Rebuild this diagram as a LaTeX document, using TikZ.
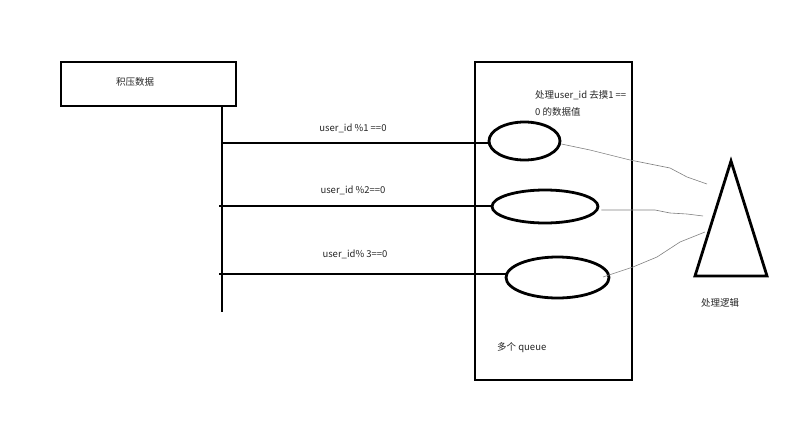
\documentclass[tikz,border=0pt]{standalone}
\usepackage{fontspec}
\setmainfont{Noto Sans CJK SC}
\usetikzlibrary{shapes.geometric}
\tikzset{
  thick line/.style={line width=2.8pt},
  qell/.style={draw, ellipse, line width=2.8pt, inner sep=0pt},
  wire/.style={draw=gray, line width=0.6pt},
  lbl/.style={font=\fontsize{9.5}{12}\selectfont, text=black!85, inner sep=0pt},
}
\begin{document}
\begin{tikzpicture}[x=1pt,y=-1pt]
\useasboundingbox (0,0) rectangle (800,447);
% source box
\node[draw, line width=2.8pt, minimum width=175pt, minimum height=44pt, inner sep=0pt] (src) at (148.5,84) {};
\node[lbl] (srct) at (135,82) {积压数据};
% vertical bus
\coordinate (btop) at (222,106);
\coordinate (bbot) at (222,312);
\draw[thick line] (btop) -- (bbot);
% queue box
\node[draw, line width=2.8pt, minimum width=157pt, minimum height=318pt, inner sep=0pt] (qbox) at (553.5,221) {};
% ellipses
\node[qell, minimum width=71pt, minimum height=38pt] (e1) at (524.5,141) {};
\node[qell, minimum width=106pt, minimum height=33pt] (e2) at (545,206.5) {};
\node[qell, minimum width=103pt, minimum height=41pt] (e3) at (557.5,277.5) {};
% bus branches
\coordinate (b1) at (222,143);
\coordinate (b2) at (219,206);
\coordinate (b3) at (219,274);
\draw[thick line] (b1) -- (e1.west |- b1);
\draw[thick line] (b2) -- (e2.west |- b2);
\draw[thick line] (b3) -- (507,274);
% labels
\node[lbl] (l1) at (353,128) {user\_id \%1 ==0};
\node[lbl] (l2) at (353,190) {user\_id \%2==0};
\node[lbl] (l3) at (355,254) {user\_id\% 3==0};
\node[lbl, anchor=west] (t1) at (535,95) {处理user\_id 去摸1 ==};
\node[lbl, anchor=west] (t2) at (535,112) {0 的数据值};
\node[lbl, anchor=west] (t3) at (497,348) {多个 queue};
% triangle
\coordinate (ta) at (731,161);
\coordinate (tl) at (695,276);
\coordinate (tr) at (767,276);
\draw[line width=2.8pt, line join=miter] (ta) -- (tr) -- (tl) -- cycle;
\node[lbl] (t4) at (720,303) {处理逻辑};
% wires
\coordinate (w1) at (707,184);
\coordinate (w2) at (703,216);
\coordinate (w3) at (705,232);
\draw[wire] (e1.east) ++(0,3) -- (590,150) -- (630,160) -- (670,168) -- (687,177) -- (w1);
\draw[wire] (e2.east) ++(2,3.5) -- (655,210) -- (670,213) -- (687,214) -- (w2);
\draw[wire] (603,277) -- (633,267) -- (657,257) -- (680,242) -- (w3);
\end{tikzpicture}
\end{document}
